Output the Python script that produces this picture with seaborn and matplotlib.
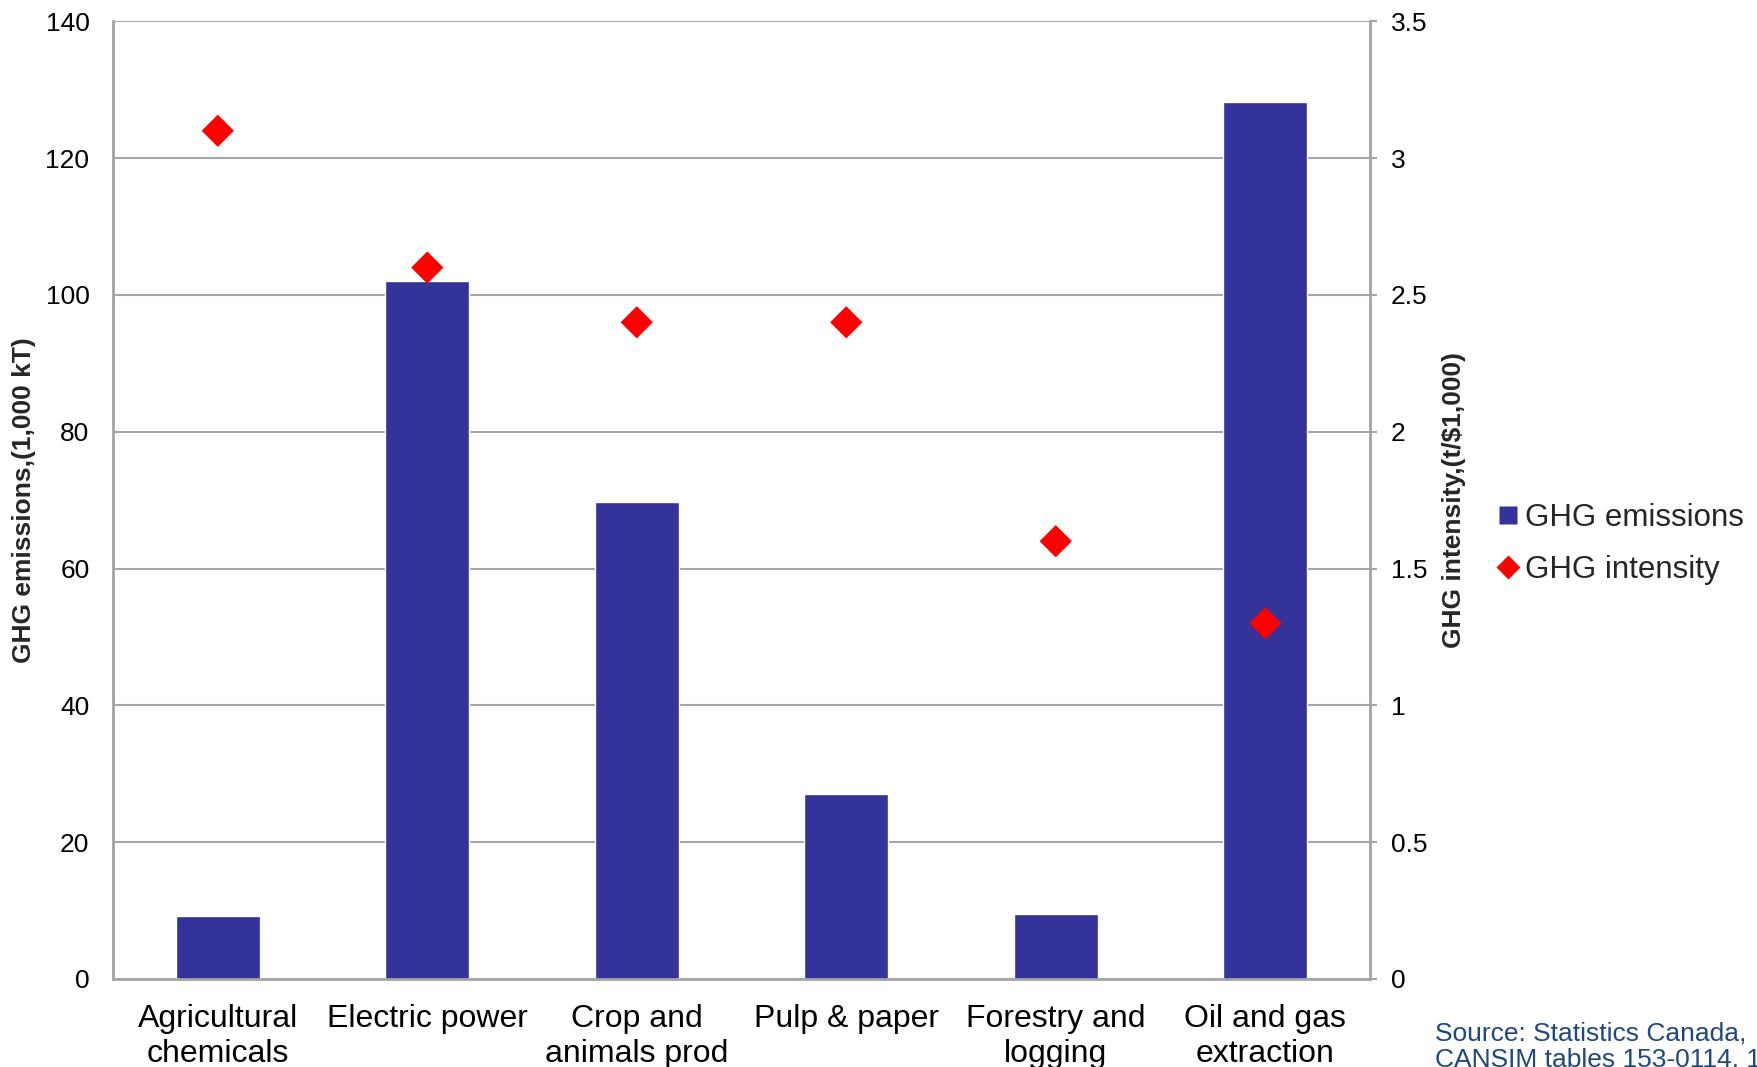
import matplotlib
matplotlib.use("Agg")
import matplotlib.pyplot as plt
from matplotlib.lines import Line2D
import seaborn as sns
import pandas as pd

# Sector data
categories = ["Agricultural\nchemicals", "Electric power", "Crop and\nanimals prod",
              "Pulp & paper", "Forestry and\nlogging", "Oil and gas\nextraction"]
emissions = [9.2, 102.0, 69.8, 27.0, 9.5, 128.2]      # 1,000 kT
intensity = [3.1, 2.6, 2.4, 2.4, 1.6, 1.3]            # t/$1,000
left_ticks = [0, 20, 40, 60, 80, 100, 120, 140]
right_ticks = [0, 0.5, 1, 1.5, 2, 2.5, 3, 3.5]
right_tick_labels = ["0", "0.5", "1", "1.5", "2", "2.5", "3", "3.5"]

BAR_COLOR = "#333399"
DIAMOND_COLOR = "#FF0000"
GRID_COLOR = "#A6A6A6"

sns.set_theme(style="white")
plt.rcParams["font.family"] = ["Liberation Sans", "DejaVu Sans"]

df = pd.DataFrame({"sector": categories, "emissions": emissions,
                   "intensity": intensity})

fig = plt.figure(figsize=(17.58, 10.67), dpi=100)
ax = fig.add_axes([0.0643, 0.0825, 0.7150, 0.8975])

sns.barplot(data=df, x="sector", y="emissions", order=categories,
            color=BAR_COLOR, saturation=1, width=0.4, ax=ax, zorder=3)
ax.set_ylim(0, 140)
ax.set_xlim(-0.5, len(categories) - 0.5)
ax.set_yticks(left_ticks)
ax.set_yticklabels([str(t) for t in left_ticks])
ax.yaxis.grid(True, color=GRID_COLOR, linewidth=1.5, zorder=0)
ax.set_axisbelow(True)
ax.set_xlabel("")
ax.set_ylabel("GHG emissions,(1,000 kT)", fontsize=19, fontweight="bold")
ax.yaxis.set_label_coords(-0.061, 0.5)
ax.tick_params(axis="y", labelsize=19, length=0, pad=17, left=False,
               labelcolor="black")
ax.tick_params(axis="x", labelsize=23, length=0, pad=18, labelcolor="black")

ax2 = ax.twinx()
sns.scatterplot(data=df, x="sector", y="intensity", marker="D", s=270,
                color=DIAMOND_COLOR, edgecolor="none", ax=ax2, zorder=4)
ax2.set_ylim(0, 3.5)
ax2.set_yticks(right_ticks)
ax2.set_yticklabels(right_tick_labels)
ax2.set_ylabel("GHG intensity,(t/$1,000)", fontsize=19, fontweight="bold")
ax2.yaxis.set_label_coords(1.057, 0.5)
ax2.tick_params(axis="y", labelsize=19, length=5, width=1.5, color=GRID_COLOR,
                pad=10, right=True, labelcolor="black")
ax2.grid(False)

for a in (ax, ax2):
    for side in ("left", "right", "bottom"):
        a.spines[side].set_visible(True)
        a.spines[side].set_color(GRID_COLOR)
        a.spines[side].set_linewidth(1.8)
    a.spines["top"].set_visible(False)

handles = [
    Line2D([], [], linestyle="none", marker="s", markersize=13,
           markerfacecolor=BAR_COLOR, markeredgecolor="none"),
    Line2D([], [], linestyle="none", marker="D", markersize=12,
           markerfacecolor=DIAMOND_COLOR, markeredgecolor="none"),
]
fig.legend(handles, ["GHG emissions", "GHG intensity"], loc="center left",
           bbox_to_anchor=(0.8445, 0.490), frameon=False, fontsize=22.5,
           handlelength=0.7, handletextpad=0.2, labelspacing=0.72,
           borderaxespad=0)

fig.text(0.816, 0.043, "Source: Statistics Canada,\nCANSIM tables 153-0114, 153-0034",
         fontsize=19, color="#1F497D", ha="left", va="top", linespacing=1.1)

fig.savefig("out.png", dpi=100)
